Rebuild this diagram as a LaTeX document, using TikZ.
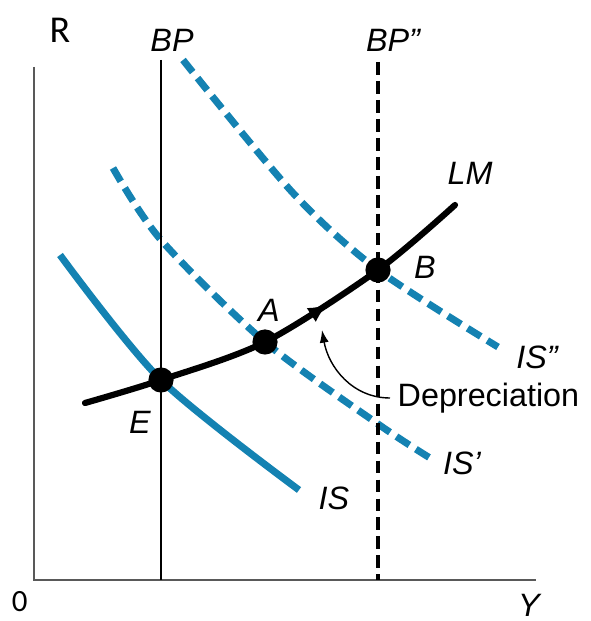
\documentclass[tikz,border=0pt]{standalone}
\usepackage{fontspec}
\setmainfont{Liberation Sans}
\newfontfamily\calibrifont{Carlito}
\usepackage{xcolor}
\usetikzlibrary{arrows.meta,positioning,decorations.markings}
\definecolor{azulis}{RGB}{20,130,178}

\begin{document}
\begin{tikzpicture}[
  eje/.style={draw=black!65, line width=1.4pt},
  curvais/.style={draw=azulis, line width=5pt},
  curvaisd/.style={curvais, dash pattern=on 11pt off 5.5pt},
  bpsolid/.style={draw=black, line width=2.1pt},
  bpdash/.style={draw=black, line width=2.3pt, dash pattern=on 9pt off 4.5pt},
  lmline/.style={draw=black, line width=4.4pt, line cap=round},
  punto/.style={circle, fill=black, inner sep=0pt, minimum size=6.3mm},
  etq/.style={font=\fontsize{23}{27}\selectfont\itshape, inner sep=1pt},
  etqr/.style={font=\fontsize{23}{27}\selectfont, inner sep=1pt},
]
  \useasboundingbox (-0.85,-1.025) rectangle (13.925,14.5);

  % Ejes
  \coordinate (O)    at (0,0);
  \coordinate (ytop) at (0,12.825);
  \coordinate (xend) at (12.55,0);
  \draw[eje] (ytop) -- (O) -- (xend);
  \node[font=\calibrifont\fontsize{27}{30}\selectfont] (rlab) at (0.65,13.75) {R};
  \node[font=\calibrifont\fontsize{22}{26}\selectfont, inner sep=1pt] (cero) at (-0.36,-0.55) {0};
  \node[etq] (ylab) at (12.375,-0.625) {Y};

  % Curvas IS (debajo de todo)
  \draw[curvais] plot[smooth] coordinates {(0.65,8.125) (3.175,5.0) (6.625,2.25)};
  \draw[curvaisd] plot[smooth] coordinates {(1.975,10.3) (3.175,8.5) (5.775,5.95) (8.6,3.9) (9.9,3.05)};
  \draw[curvaisd] plot[smooth] coordinates {(3.725,13.0) (6.475,9.675) (8.6,7.75) (11.6,5.825)};
  \node[etq] (is)   at (7.5,2.05)   {IS};
  \node[etq] (isp)  at (10.7,2.925) {IS'};
  \node[etq] (ispp) at (12.575,5.575) {IS''};

  % Rectas BP
  \node[etq] (bp)   at (3.45,13.5)  {BP};
  \node[etq] (bppp) at (8.975,13.5) {BP''};
  \coordinate (bptop)   at (3.175,13.0);
  \coordinate (bpbot)   at (3.175,0);
  \coordinate (bppptop) at (8.6,12.95);
  \coordinate (bpppbot) at (8.6,0);
  \draw[bpsolid] (bptop) -- (bpbot);
  \draw[bpdash]  (bppptop) -- (bpppbot);

  % Curva LM con flecha
  \draw[lmline, postaction={decorate},
        decoration={markings, mark=at position 0.62 with {\arrow{Latex[length=14pt,width=12pt]}}}]
    plot[smooth] coordinates {(1.275,4.425) (3.175,5.0) (5.775,5.95) (8.6,7.75) (10.525,9.375)};
  \node[etq] (lm) at (10.9,10.175) {LM};

  % Equilibrios
  \node[punto] (E) at (3.175,5.0)  {};
  \node[punto] (A) at (5.775,5.95) {};
  \node[punto] (B) at (8.6,7.75)   {};
  \node[etq] (elab) at (2.65,3.95)  {E};
  \node[etq] (alab) at (5.875,6.75) {A};
  \node[etq] (blab) at (9.775,7.825) {B};

  % Depreciacion
  \node[etqr, anchor=west] (dep) at (9.05,4.55) {Depreciation};
  \coordinate (deptip) at (7.2,6.25);
  \draw[line width=1pt, -{Latex[length=9pt,width=6.5pt]}]
    ([xshift=-1.5mm]dep.west) to[out=180, in=-80] (deptip);
\end{tikzpicture}
\end{document}
